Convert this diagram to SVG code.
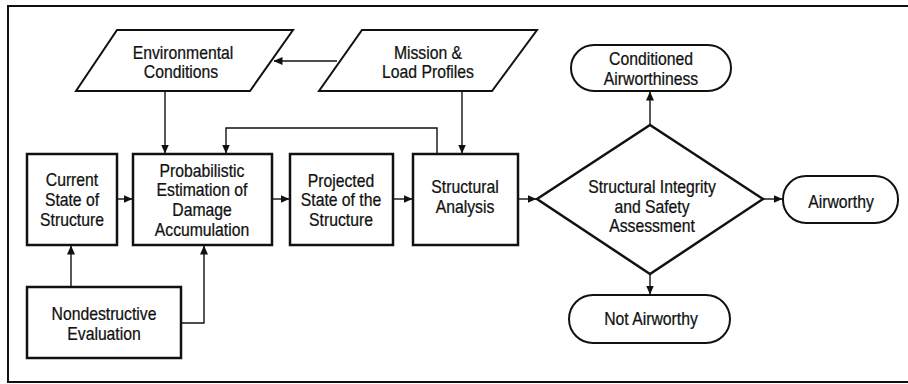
<svg xmlns="http://www.w3.org/2000/svg" width="908" height="384" viewBox="0 0 908 384">
<defs>
<marker id="ah" markerWidth="9" markerHeight="8" refX="8.5" refY="4" orient="auto" markerUnits="userSpaceOnUse">
<path d="M0,0 L9,4 L0,8 Z" fill="#111"/>
</marker>
</defs>
<style>
.sh{fill:#fff;stroke:#111;stroke-width:2.5;stroke-linejoin:miter}
.pl{fill:#fff;stroke:#111;stroke-width:2}
.cn{fill:none;stroke:#111;stroke-width:1.4;marker-end:url(#ah)}
text{font-family:"Liberation Sans",Arial,sans-serif;font-size:17.5px;fill:#111;text-anchor:middle;stroke:#111;stroke-width:0.25}
</style>
<rect width="908" height="384" fill="#fff"/>
<path d="M908,6 H8 V382 H908" fill="none" stroke="#111" stroke-width="2"/>
<g id="env"><polygon class="pl" points="117,30 293,30 250,91 76,91"/><text transform="translate(183,59) scale(0.9,1)">Environmental</text><text transform="translate(181,78) scale(0.9,1)">Conditions</text></g>
<g id="mission"><polygon class="pl" points="362,30 537,30 492,91 319,91"/><text transform="translate(428,59) scale(0.9,1)">Mission &amp;</text><text transform="translate(428,78) scale(0.9,1)">Load Profiles</text></g>
<g id="current"><rect class="sh" x="27" y="154" width="90" height="91"/><text transform="translate(72,186) scale(0.9,1)">Current</text><text transform="translate(72,206) scale(0.9,1)">State of</text><text transform="translate(72,226) scale(0.9,1)">Structure</text></g>
<g id="prob"><rect class="sh" x="133" y="154" width="139" height="91"/><text transform="translate(202,177) scale(0.9,1)">Probabilistic</text><text transform="translate(202,196) scale(0.9,1)">Estimation of</text><text transform="translate(202,216) scale(0.9,1)">Damage</text><text transform="translate(202,236) scale(0.9,1)">Accumulation</text></g>
<g id="projected"><rect class="sh" x="290" y="154" width="103" height="91"/><text transform="translate(341,187) scale(0.9,1)">Projected</text><text transform="translate(341,206) scale(0.9,1)">State of the</text><text transform="translate(341,226) scale(0.9,1)">Structure</text></g>
<g id="analysis"><rect class="sh" x="413" y="154" width="105" height="91"/><text transform="translate(465,193) scale(0.9,1)">Structural</text><text transform="translate(465,213) scale(0.9,1)">Analysis</text></g>
<g id="assess"><polygon class="sh" points="537,199 650,125 763,199 650,274"/><text transform="translate(652,193) scale(0.9,1)">Structural Integrity</text><text transform="translate(652,213) scale(0.9,1)">and Safety</text><text transform="translate(652,232) scale(0.9,1)">Assessment</text></g>
<g id="conditioned"><rect class="pl" x="571" y="45" width="160" height="46" rx="23"/><text transform="translate(651,65) scale(0.9,1)">Conditioned</text><text transform="translate(651,85) scale(0.9,1)">Airworthiness</text></g>
<g id="airworthy"><rect class="pl" x="783" y="176" width="115" height="47" rx="23"/><text transform="translate(841,208) scale(0.9,1)">Airworthy</text></g>
<g id="notair"><rect class="pl" x="569" y="295" width="161" height="48" rx="24"/><text transform="translate(651,325) scale(0.9,1)">Not Airworthy</text></g>
<g id="nde"><rect class="sh" x="27" y="287" width="154" height="71"/><text transform="translate(104,320) scale(0.9,1)">Nondestructive</text><text transform="translate(104,340) scale(0.9,1)">Evaluation</text></g>
<g id="connectors">
<path class="cn" d="M337,61 H274"/>
<path class="cn" d="M165,91 V153"/>
<path class="cn" d="M462,91 V153"/>
<path class="cn" d="M437,154 V128 H226 V153"/>
<path class="cn" d="M117,199 H132"/>
<path class="cn" d="M272,199 H289"/>
<path class="cn" d="M393,199 H412"/>
<path class="cn" d="M518,199 H536"/>
<path class="cn" d="M650,125 V92"/>
<path class="cn" d="M763,199 H782"/>
<path class="cn" d="M650,274 V294"/>
<path class="cn" d="M71,287 V246"/>
<path class="cn" d="M181,323 H204 V246"/>
</g>
</svg>
